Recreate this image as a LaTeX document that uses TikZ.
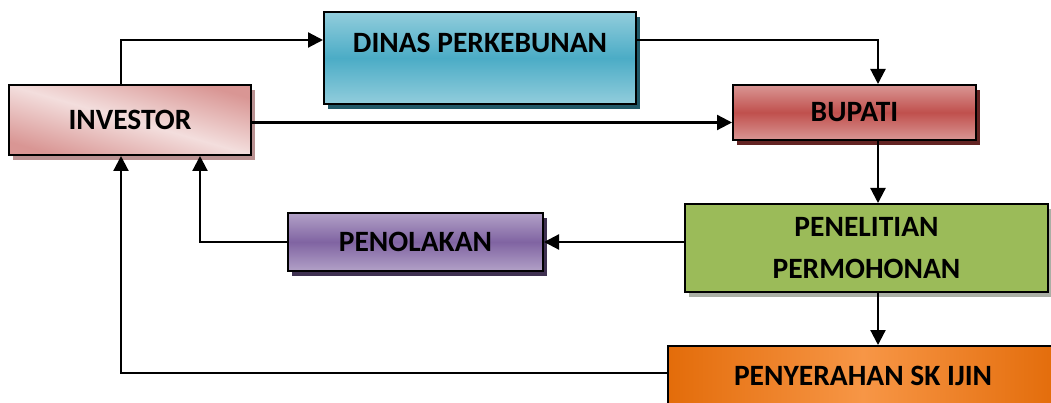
\documentclass[tikz,border=0pt]{standalone}
\usepackage{fontspec}
\setmainfont{Carlito}
\usetikzlibrary{arrows.meta, shadows}
\definecolor{roseDark}{RGB}{217,150,148}
\definecolor{roseLight}{RGB}{243,222,221}
\definecolor{roseShadow}{RGB}{186,146,146}
\definecolor{aquaLight}{RGB}{146,205,220}
\definecolor{aquaMid}{RGB}{75,172,198}
\definecolor{aquaShadow}{RGB}{33,89,104}
\definecolor{redMid}{RGB}{192,80,77}
\definecolor{redShadow}{RGB}{99,36,35}
\definecolor{violetLight}{RGB}{178,161,199}
\definecolor{violetMid}{RGB}{128,100,162}
\definecolor{violetShadow}{RGB}{63,49,81}
\definecolor{oliveFill}{RGB}{155,187,89}
\definecolor{oliveShadow}{RGB}{170,175,165}
\definecolor{orangeDark}{RGB}{227,108,10}
\definecolor{orangeLight}{RGB}{247,150,70}
\tikzstyle{box} = [rectangle, draw=black, line width=2pt, inner sep=0pt, text centered, align=center, font=\fontsize{29.5}{40}\selectfont\bfseries]
\tikzstyle{arrow} = [line width=2.2pt, -{Triangle[length=15pt,width=15pt]}]

\begin{document}
\begin{tikzpicture}[x=1pt, y=-1pt]
        \useasboundingbox (0,0) rectangle (1051,403);
        \node (investor) [box, minimum width=242pt, minimum height=70pt, top color=roseDark, bottom color=roseDark, middle color=roseLight, shading angle=-16, drop shadow={shadow xshift=4pt, shadow yshift=-5pt, opacity=1, fill=roseShadow, draw=none}] at (130,120) {INVESTOR};
        \node (dinas) [box, minimum width=312pt, minimum height=92pt, text height=20pt, text depth=30pt, top color=aquaLight, bottom color=aquaLight, middle color=aquaMid, drop shadow={shadow xshift=4pt, shadow yshift=-5pt, opacity=1, fill=aquaShadow, draw=none}] at (480,58) {DINAS PERKEBUNAN};
        \node (bupati) [box, minimum width=243pt, minimum height=55pt, top color=roseDark, bottom color=roseDark, middle color=redMid, drop shadow={shadow xshift=4pt, shadow yshift=-5pt, opacity=1, fill=redShadow, draw=none}] at (854.5,112.5) {BUPATI};
        \node (penelitian) [box, minimum width=363pt, minimum height=88pt, fill=oliveFill, drop shadow={shadow xshift=4pt, shadow yshift=-5pt, opacity=1, fill=oliveShadow, draw=none}] at (866.5,248) {PENELITIAN\\[2pt]PERMOHONAN};
        \node (penolakan) [box, minimum width=255pt, minimum height=58pt, top color=violetLight, bottom color=violetLight, middle color=violetMid, drop shadow={shadow xshift=4pt, shadow yshift=-5pt, opacity=1, fill=violetShadow, draw=none}] at (415.5,242) {PENOLAKAN};
        \node (penyerahan) [box, minimum width=390pt, minimum height=59pt, left color=orangeDark, right color=orangeDark, middle color=orangeLight] at (863,375.5) {PENYERAHAN SK IJIN};
        \coordinate (bupatiIn) at ([yshift=-10pt]bupati.west);

        \draw [arrow] ([xshift=-9pt]investor.north) |- ([yshift=18pt]dinas.west);
        \draw [arrow] ([yshift=18pt]dinas.east) -| ([xshift=23.5pt]bupati.north);
        \draw [arrow] (investor.east |- bupatiIn) -- (bupatiIn);
        \draw [arrow] ([xshift=23.5pt]bupati.south) -- ([xshift=11.5pt]penelitian.north);
        \draw [arrow] (penelitian.west |- penolakan.east) -- (penolakan.east);
        \draw [arrow] (penolakan.west) -| ([xshift=70pt]investor.south);
        \draw [arrow] ([xshift=11.5pt]penelitian.south) -- ([xshift=11.5pt]penelitian.south |- penyerahan.north);
        \draw [arrow] ([yshift=2.5pt]penyerahan.west) -| ([xshift=-9pt]investor.south);
    \end{tikzpicture}
\end{document}
